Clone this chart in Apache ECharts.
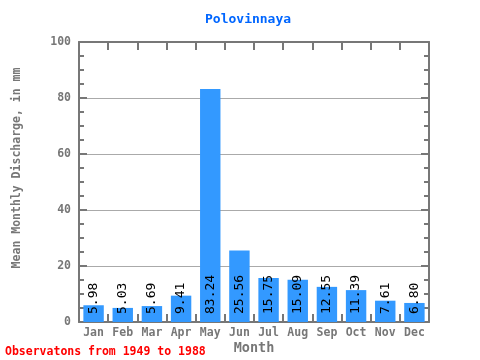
<!DOCTYPE html>
<html><head><meta charset="utf-8">
<script src="https://cdn.jsdelivr.net/npm/echarts@6/dist/echarts.min.js"></script>
<style>html,body{margin:0;padding:0;background:#fff}#c{width:480px;height:360px}</style>
</head><body><div id="c"></div>
<script>
var months = ["Jan","Feb","Mar","Apr","May","Jun","Jul","Aug","Sep","Oct","Nov","Dec"];
var discharge = [5.98,5.03,5.69,9.41,83.24,25.56,15.75,15.09,12.55,11.39,7.61,6.80];
var titleText = "Polovinnaya";
var noteText = "Observatons from 1949 to 1988";

var FONT = "DejaVu Sans Mono";
var GRAY = "#777777";
var chart = echarts.init(document.getElementById('c'));
function xAxisDef(pos, extra) {
  return Object.assign({
    type: 'category', data: months, boundaryGap: true, position: pos,
    axisLine: {show: true, onZero: false, lineStyle: {color: GRAY, width: 2}},
    axisTick: {show: true, inside: true, length: 8, interval: 0, alignWithLabel: false, lineStyle: {color: GRAY, width: 2}},
    splitLine: {show: false}
  }, extra);
}
function yAxisDef(pos, extra) {
  return Object.assign({
    type: 'value', min: 0, max: 100, interval: 20, position: pos,
    axisLine: {show: true, onZero: false, lineStyle: {color: GRAY, width: 2}},
    axisTick: {show: true, inside: true, length: 8, lineStyle: {color: GRAY, width: 2}},
    minorTick: {show: true, splitNumber: 4, length: 5, lineStyle: {color: GRAY, width: 2}}
  }, extra);
}
chart.setOption({
  animation: false,
  textStyle: {fontFamily: FONT},
  title: {text: titleText, left: 200, top: 8,
    textStyle: {color: '#0066ff', fontFamily: FONT, fontWeight: 'bold', fontSize: 13}},
  grid: {left: 79, right: 51, top: 42, bottom: 38, containLabel: false, outerBoundsMode: 'none'},
  graphic: [{type: 'text', left: 5, top: 346,
    style: {text: noteText, fill: '#ff0000', font: 'bold 11.5px "DejaVu Sans Mono"'}}],
  xAxis: [
    xAxisDef('bottom', {
      name: 'Month', nameLocation: 'middle', nameGap: 19, nameMoveOverlap: false,
      nameTextStyle: {color: GRAY, fontWeight: 'bold', fontSize: 13.5, fontFamily: FONT},
      axisLabel: {color: GRAY, fontWeight: 'bold', fontSize: 11.5, margin: 5, interval: 0, fontFamily: FONT}}),
    xAxisDef('top', {axisLabel: {show: false}})
  ],
  yAxis: [
    yAxisDef('left', {
      name: 'Mean Monthly Discharge, in mm', nameLocation: 'middle', nameGap: 56, nameMoveOverlap: false,
      nameTextStyle: {color: GRAY, fontWeight: 'bold', fontSize: 11.5, fontFamily: FONT, padding: [0, 0, 0, 28]},
      axisLabel: {color: GRAY, fontWeight: 'bold', fontSize: 11.5, margin: 8, fontFamily: FONT},
      splitLine: {show: true, lineStyle: {color: '#aaaaaa', width: 1}}}),
    yAxisDef('right', {axisLabel: {show: false}, splitLine: {show: false}})
  ],
  series: [{
    type: 'bar', data: discharge, barWidth: '70%', xAxisIndex: 0, yAxisIndex: 0,
    itemStyle: {color: '#3399ff'},
    label: {show: true, position: 'insideBottom', rotate: 90, align: 'left', verticalAlign: 'middle',
      distance: 8, color: '#000', fontSize: 13, fontFamily: FONT,
      formatter: function(p){ return p.value.toFixed(2); }}
  }]
});
</script></body></html>
